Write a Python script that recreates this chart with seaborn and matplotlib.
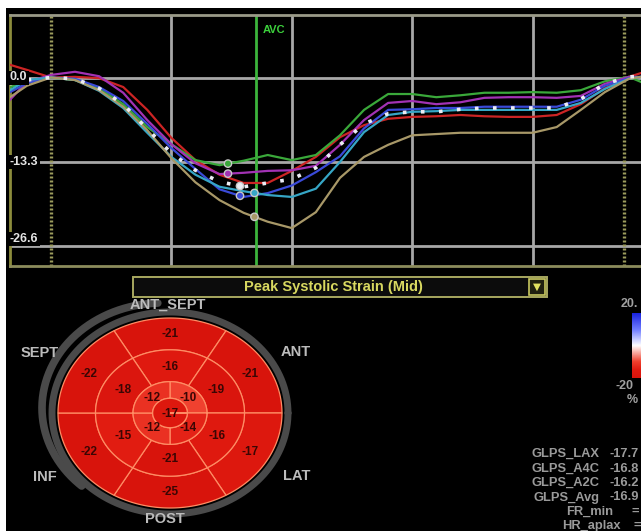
import numpy as np
import pandas as pd
import matplotlib
matplotlib.use("Agg")
import matplotlib.pyplot as plt
import seaborn as sns
from matplotlib.patches import Polygon, Rectangle
from matplotlib.colors import LinearSegmentedColormap, Normalize

plt.rcParams["font.family"] = ["Liberation Sans", "DejaVu Sans"]

# ---------------- strain traces (%), sampled every 20 ms ----------------
time_ms = [-34, -20, 0, 20, 40, 60, 80, 100, 120, 140, 160, 180, 200, 220,
           240, 260, 280, 300, 320, 340, 360, 380, 400, 420, 440, 460, 480, 490]
strain_red = [2.0, 1.2, 0.0, 0.1, -0.1, -1.5, -5.1, -9.5, -13.0, -15.3, -16.6, -16.6, -14.7, -12.5,
              -9.4, -7.5, -6.5, -6.2, -6.1, -5.9, -6.1, -6.2, -6.2, -5.9, -4.2, -1.7, 0.1, 0.7]
strain_green = [-1.5, -0.7, 0.0, -0.4, -1.7, -4.2, -7.8, -10.5, -13.0, -13.8, -13.1, -12.2, -13.0, -12.2,
                -9.1, -5.1, -2.6, -2.6, -3.1, -2.8, -2.4, -2.4, -2.3, -2.4, -2.0, -0.6, 0.1, -0.7]
strain_magenta = [-3.5, -0.7, 0.4, 0.9, 0.2, -2.4, -6.7, -10.5, -13.5, -15.2, -15.0, -14.7, -14.6, -13.9,
                  -10.6, -6.7, -4.0, -3.7, -4.2, -3.9, -3.2, -3.1, -3.1, -3.2, -2.9, -1.0, 0.1, 0.1]
strain_blue = [-2.3, -0.9, 0.0, -0.2, -1.5, -3.7, -7.3, -11.1, -14.4, -17.6, -18.8, -18.2, -17.0, -14.9,
               -12.4, -8.0, -5.1, -5.0, -4.8, -4.8, -4.6, -4.6, -4.6, -4.6, -3.5, -1.3, -0.1, 0.1]
strain_cyan = [-2.0, -0.4, 0.0, -0.4, -2.1, -4.8, -8.7, -12.5, -15.3, -17.2, -17.9, -18.5, -18.8, -17.5,
               -13.3, -8.6, -5.9, -5.4, -5.3, -5.1, -5.1, -5.1, -5.1, -5.1, -4.0, -1.8, -0.2, 0.1]
strain_olive = [-3.1, -1.3, 0.0, -0.4, -2.0, -4.6, -8.3, -12.7, -16.5, -19.3, -21.3, -22.7, -23.7, -21.2,
                -15.8, -12.5, -10.6, -9.1, -8.9, -8.7, -8.7, -8.7, -8.7, -7.8, -5.1, -2.3, -0.2, 0.1]
strain_avg = [-1.0, -0.4, 0.0, -0.2, -1.7, -4.2, -8.1, -11.9, -14.6, -16.4, -17.2, -16.6, -16.0, -14.2,
              -10.6, -7.3, -5.7, -5.4, -5.4, -5.0, -4.8, -4.8, -4.8, -4.8, -3.4, -1.0, 0.1, 0.2]

curve_names = ["red", "green", "magenta", "blue", "cyan", "olive"]
curve_colors = ["#cc2424", "#3aa83a", "#a232b4", "#3a4ad8", "#36a6c6", "#a89868"]
peak_curves = ["green", "magenta", "avg", "blue", "cyan", "olive"]
peak_ms = [147, 147, 157, 157, 169, 169]

avc_ms = 170
cycle_start_ms = 0
cycle_end_ms = 476
grid_ms = [100, 200, 300, 400]
y_ticks = [0.0, -13.3, -26.6]
y_tick_labels = ["0.0", "-13.3", "-26.6"]

# ---------------- bull's eye (peak systolic strain, %) ----------------
wall_labels = ["ANT_SEPT", "ANT", "LAT", "POST", "INF", "SEPT"]
wall_angles = [90, 30, -30, -90, -150, 150]
basal_values = [-21, -21, -17, -25, -22, -22]
mid_values = [-16, -19, -16, -21, -15, -18]
apical_angles = [45, -45, -135, 135]
apical_values = [-10, -14, -12, -12]
apex_value = -17

glps_names = ["GLPS_LAX", "GLPS_A4C", "GLPS_A2C", "GLPS_Avg"]
glps_values = ["-17.7", "-16.8", "-16.2", "-16.9"]
panel_title = "Peak Systolic Strain (Mid)"

# ---------------- figure ----------------
W, H = 641, 531
fig = plt.figure(figsize=(W / 100, H / 100), dpi=100, facecolor="white")

bg = fig.add_axes([0, 0, 1, 1])
bg.set_xlim(0, W)
bg.set_ylim(H, 0)
bg.axis("off")
bg.add_patch(Rectangle((6, 8), W, H, fc="black", ec="none"))

# strain chart, placed on the pixel frame (x 10..641, y 15..266)
px_per_unit = 0.1574
top_px, bot_px, zero_px = 15, 266, 77.5
ax = fig.add_axes([10 / W, 1 - bot_px / H, (W - 10) / W, (bot_px - top_px) / H])
ax.set_facecolor("black")

df = pd.DataFrame({
    "time": np.tile(time_ms, len(curve_names)),
    "strain": np.concatenate([strain_red, strain_green, strain_magenta,
                              strain_blue, strain_cyan, strain_olive]),
    "curve": np.repeat(curve_names, len(time_ms)),
})
palette = dict(zip(curve_names, curve_colors))

for v in y_ticks:
    ax.axhline(v, color="#a8a8a8", lw=2.0, zorder=1)
for t in grid_ms:
    ax.axvline(t, color="#a8a8a8", lw=2.0, zorder=1)
for t in (cycle_start_ms, cycle_end_ms):
    ax.axvline(t, color="#9c9c5c", lw=2.4, ls=(0, (0.6, 0.6)), zorder=1)
ax.axvline(avc_ms, color="#3cb43c", lw=2.0, zorder=2)

sns.lineplot(data=df, x="time", y="strain", hue="curve", palette=palette,
             estimator=None, sort=False, lw=1.6, legend=False, ax=ax, zorder=3)
sns.lineplot(x=time_ms, y=strain_avg, color="#ececf4", lw=2.6,
             linestyle=(0, (1.0, 4.0)), estimator=None, sort=False, ax=ax, zorder=4)

series = {"red": strain_red, "green": strain_green, "magenta": strain_magenta,
          "blue": strain_blue, "cyan": strain_cyan, "olive": strain_olive, "avg": strain_avg}
color_of = dict(palette, avg="#ececf4")
peak_vals = [float(np.interp(t, time_ms, series[c])) for c, t in zip(peak_curves, peak_ms)]
sns.scatterplot(x=peak_ms, y=peak_vals, hue=peak_curves, palette=color_of, s=28,
                edgecolor="#c8c8c8", linewidth=1.0, legend=False, ax=ax, zorder=6)

ax.set_xlim(-34, 490)
ax.set_ylim((zero_px - bot_px) * px_per_unit, (zero_px - top_px) * px_per_unit)
ax.set_xticks([])
ax.set_yticks([])
ax.set_xlabel("")
ax.set_ylabel("")
ax.spines["right"].set_visible(False)
ax.spines["left"].set_color("#8c8c3c")
ax.spines["bottom"].set_color("#8c8c5c")
ax.spines["top"].set_color("#9a9a88")
for s in ("left", "bottom", "top"):
    ax.spines[s].set_linewidth(2.0)

for v, lab, dy in zip(y_ticks, y_tick_labels, [0, 0, 5.4]):
    ax.annotate(lab, xy=(0.0, v), xycoords=("axes fraction", "data"),
                xytext=(0, dy), textcoords="offset points", ha="left", va="center",
                fontsize=9, fontweight="bold", color="#e4e4e4", zorder=10,
                bbox=dict(boxstyle="square,pad=0.08", fc="black", ec="none"))
ax.annotate("AVC", xy=(avc_ms, (zero_px - 30) * px_per_unit), xytext=(13, 0),
            textcoords="offset points", ha="center", va="center",
            fontsize=8, fontweight="bold", color="#3cd03c", zorder=10)

# ---------------- lower panel ----------------
ov = fig.add_axes([0, 0, 1, 1], facecolor="none")
ov.set_xlim(0, W)
ov.set_ylim(H, 0)
ov.axis("off")

# parameter selector
ov.add_patch(Rectangle((133, 277), 414, 20, fc="#0c0c0c", ec="#a8a860", lw=1.4))
ov.text(333, 287.5, panel_title, ha="center", va="center", fontsize=10.5,
        fontweight="bold", color="#d8d860")
ov.add_patch(Rectangle((529, 279), 16, 16, fc="#202010", ec="#c8c860", lw=1.2))
ov.text(537, 287, "\u25BC", ha="center", va="center", fontsize=7.5, color="#e0e060",
        family="DejaVu Sans")

# strain colour scale (blue = lengthening, red = shortening)
cmap = LinearSegmentedColormap.from_list(
    "strain", [(0.0, "#d8140c"), (0.12, "#e01a10"), (0.25, "#f0402e"),
               (0.5, "#ffffff"), (0.75, "#6f7cff"), (1.0, "#1a24e0")])
norm = Normalize(-20, 20)

cx, cy, A, B = 170, 413, 112, 95
line_c = "#ff8c64"

# grey rim around the bull's eye
th = np.radians(np.linspace(0, 360, 300))
ov.plot(cx + 118 * np.cos(th), cy - 101 * np.sin(th), color="#4a4a4a", lw=5,
        solid_capstyle="round")
th = np.radians(np.linspace(92, 228, 150))
ov.plot(162 + 120 * np.cos(th), 408 - 105 * np.sin(th), color="#4a4a4a", lw=5.5,
        solid_capstyle="round")


def ring_patch(r0, r1, a0, a1, value):
    t = np.radians(np.linspace(a0, a1, 60))
    outer = np.c_[cx + A * r1 * np.cos(t), cy - B * r1 * np.sin(t)]
    inner = np.c_[cx + A * r0 * np.cos(t[::-1]), cy - B * r0 * np.sin(t[::-1])]
    return Polygon(np.vstack([outer, inner]), closed=True,
                   fc=cmap(norm(value)), ec=line_c, lw=0.9)


def seg_label(r, ang, value):
    a = np.radians(ang)
    ov.text(cx + A * r * np.cos(a), cy - B * r * np.sin(a), f"{value}",
            ha="center", va="center", fontsize=8.5, fontweight="bold", color="#3a0604")


for ang, vb, vm in zip(wall_angles, basal_values, mid_values):
    ov.add_patch(ring_patch(0.665, 1.0, ang - 30, ang + 30, vb))
    ov.add_patch(ring_patch(0.33, 0.665, ang - 30, ang + 30, vm))
    seg_label(0.83, ang, vb)
    seg_label(0.48, ang, vm)
for ang, va in zip(apical_angles, apical_values):
    ov.add_patch(ring_patch(0.155, 0.33, ang - 45, ang + 45, va))
    seg_label(0.23, ang, va)
ov.add_patch(ring_patch(0.0, 0.155, 0, 360, apex_value))
ov.text(cx, cy + 1, f"{apex_value}", ha="center", va="center", fontsize=8.5,
        fontweight="bold", color="#3a0604")

wall_text_pos = {"ANT_SEPT": (168, 305), "ANT": (296, 352), "LAT": (297, 476),
                 "POST": (165, 519), "INF": (45, 477), "SEPT": (40, 353)}
for lab in wall_labels:
    x, y = wall_text_pos[lab]
    ov.text(x, y, lab, ha="center", va="center", fontsize=10.5, fontweight="bold",
            color="#bcbcbc")

# colour bar at the right edge
grad = np.linspace(20, -20, 100).reshape(-1, 1)
ov.imshow(grad, extent=(632, 652, 378, 313), aspect="auto", cmap=cmap, norm=norm,
          interpolation="bilinear")
ov.set_xlim(0, W)
ov.set_ylim(H, 0)
ov.text(621, 304, "20.", ha="left", va="center", fontsize=9, fontweight="bold", color="#a0a0a0")
ov.text(616, 386, "-20", ha="left", va="center", fontsize=9, fontweight="bold", color="#a0a0a0")
ov.text(627, 400, "%", ha="left", va="center", fontsize=9, fontweight="bold", color="#a0a0a0")

# global strain summary
fs = 9.3
for i, (name, val) in enumerate(zip(glps_names, glps_values)):
    y = 454 + i * 14.5
    ov.text(600, y, name, ha="right", va="center", fontsize=fs, fontweight="bold",
            color="#9a9a9a")
    ov.text(609, y, val, ha="left", va="center", fontsize=fs, fontweight="bold",
            color="#9a9a9a")
ov.text(613, 512, "FR_min", ha="right", va="center", fontsize=fs, fontweight="bold", color="#9a9a9a")
ov.text(632, 512, "=", ha="left", va="center", fontsize=fs, fontweight="bold", color="#9a9a9a")
ov.text(621, 526, "HR_aplax", ha="right", va="center", fontsize=fs, fontweight="bold", color="#9a9a9a")
ov.text(633, 526, "=", ha="left", va="center", fontsize=fs, fontweight="bold", color="#9a9a9a")

fig.savefig("out.png", dpi=100, facecolor=fig.get_facecolor())
